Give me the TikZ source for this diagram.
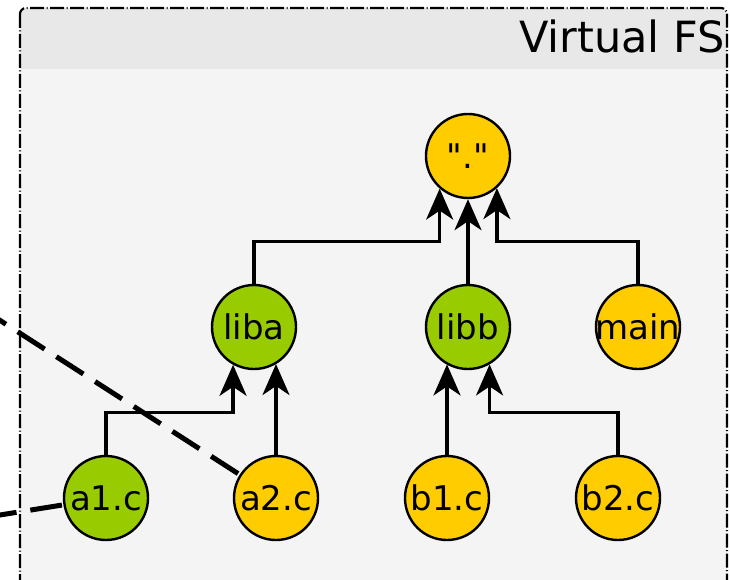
\documentclass[tikz,border=0pt]{standalone}
\usepackage{fontspec}
\newfontfamily\dv{DejaVu Sans}
\usetikzlibrary{arrows.meta}
\definecolor{fsyellow}{HTML}{FFCC00}
\definecolor{fsgreen}{HTML}{99CC00}
\definecolor{hdrgray}{HTML}{E8E8E8}
\definecolor{bodygray}{HTML}{F4F4F4}
\tikzset{
  vnode/.style={circle, draw=black, line width=2.4pt, minimum size=84pt, inner sep=-6pt,
    font=\dv\fontsize{34}{40}\selectfont, text=black},
  ynode/.style={vnode, fill=fsyellow},
  gnode/.style={vnode, fill=fsgreen},
  arr/.style={line width=3.2pt, -{Stealth[length=31pt, width=27pt, inset=9pt]}},
  dline/.style={line width=5pt, dash pattern=on 32pt off 14pt},
  border/.style={line width=2.2pt, dash pattern=on 14pt off 2.5pt on 1pt off 2.5pt, rounded corners=6pt}
}
\begin{document}
\begin{tikzpicture}[x=1pt, y=-1pt]
\useasboundingbox (0,0) rectangle (730,580);
\clip (0,0) rectangle (730,580);
\fill[white] (0,0) rectangle (730,580);
% panel
\begin{scope}
  \clip[rounded corners=6pt] (20,8) rectangle (727,620);
  \fill[bodygray] (20,8) rectangle (727,620);
  \fill[hdrgray] (20,8) rectangle (727,69);
\end{scope}
\draw[border] (20,8) rectangle (727,620);
\node[anchor=base east, inner sep=0pt, font=\dv\fontsize{43}{50}\selectfont] (title) at (725,53) {Virtual FS};
% nodes
\node[ynode] (root) at (468,156) {"."};
\node[gnode] (liba) at (254,327) {liba};
\node[gnode] (libb) at (468,327) {libb};
\node[ynode] (main) at (638,327) {main};
\node[gnode] (a1) at (106,498) {a1.c};
\node[ynode] (a2) at (276,498) {a2.c};
\node[ynode] (b1) at (447,498) {b1.c};
\node[ynode] (b2) at (618,498) {b2.c};
% edges
\draw[arr] (liba.north) -- ++(0,-42) -| (root.229);
\draw[arr] (libb) -- (root);
\draw[arr] (main.north) -- ++(0,-42) -| (root.312);
\draw[arr] (a1.north) -- ++(0,-42) -| (liba.241);
\draw[arr] (a2.north) -- (a2.north |- liba.301);
\draw[arr] (b1.north) -- (b1.north |- libb.240);
\draw[arr] (b2.north) -- ++(0,-42) -| (libb.300);
% dashed links from outside
\coordinate (src1) at (-100,256);
\coordinate (src2) at (-100,531);
\draw[dline, dash phase=44pt] (src1) -- (a2);
\draw[dline, dash phase=6pt] (src2) -- (a1);
\end{tikzpicture}
\end{document}
